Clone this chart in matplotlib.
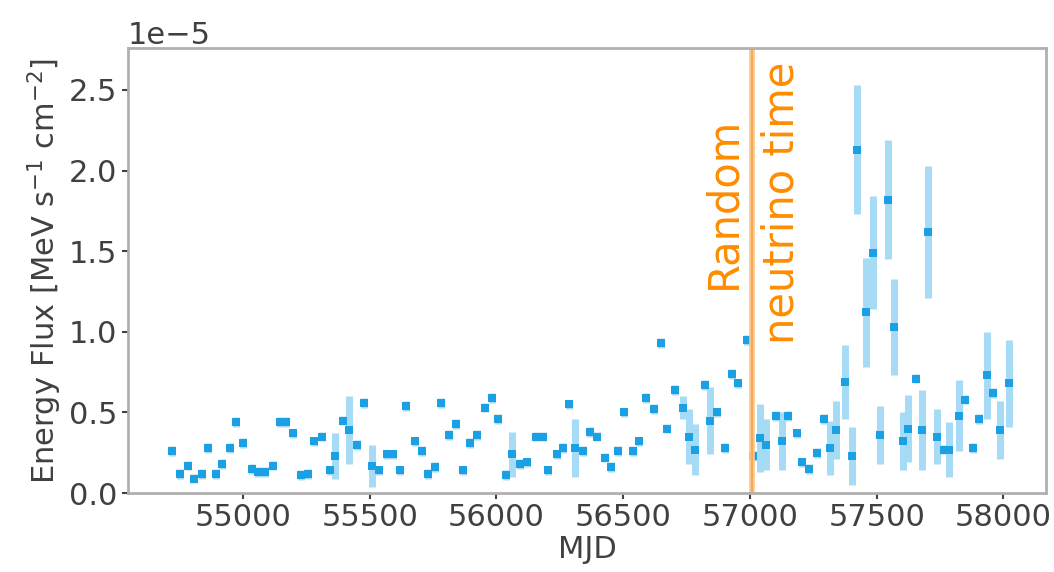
import matplotlib
matplotlib.use("Agg")
import matplotlib.pyplot as plt
import numpy as np

# light curve (monthly bins), flux in units of 1e-5 MeV s^-1 cm^-2
mjd = [54719, 54752, 54781, 54806, 54838, 54863, 54892, 54916, 54947, 54974,
       55001, 55034, 55060, 55085, 55120, 55145, 55169, 55196, 55229, 55255,
       55279, 55310, 55342, 55363, 55396, 55420, 55449, 55476, 55509, 55537,
       55568, 55593, 55619, 55644, 55677, 55705, 55731, 55757, 55783, 55814,
       55841, 55869, 55897, 55922, 55955, 55981, 56007, 56036, 56062, 56091,
       56120, 56157, 56183, 56204, 56238, 56262, 56285, 56310, 56342, 56369,
       56397, 56427, 56453, 56481, 56505, 56537, 56563, 56590, 56621, 56648,
       56674, 56706, 56736, 56761, 56783, 56821, 56842, 56869, 56901, 56928,
       56954, 56987, 57013, 57040, 57063, 57101, 57125, 57150, 57184, 57204,
       57232, 57264, 57294, 57316, 57341, 57375, 57401, 57423, 57458, 57486,
       57515, 57546, 57568, 57602, 57625, 57656, 57679, 57703, 57738, 57765,
       57787, 57824, 57850, 57879, 57905, 57935, 57960, 57987, 58023]

flux = [0.26, 0.12, 0.17, 0.09, 0.12, 0.28, 0.12, 0.18, 0.28, 0.44,
        0.31, 0.15, 0.13, 0.13, 0.17, 0.44, 0.44, 0.37, 0.11, 0.12,
        0.32, 0.35, 0.14, 0.23, 0.45, 0.39, 0.30, 0.56, 0.17, 0.14,
        0.24, 0.24, 0.14, 0.54, 0.32, 0.26, 0.12, 0.16, 0.56, 0.36,
        0.43, 0.14, 0.31, 0.36, 0.53, 0.59, 0.46, 0.11, 0.24, 0.18,
        0.19, 0.35, 0.35, 0.14, 0.24, 0.28, 0.55, 0.28, 0.26, 0.38,
        0.35, 0.22, 0.16, 0.26, 0.50, 0.26, 0.32, 0.59, 0.52, 0.93,
        0.40, 0.64, 0.53, 0.35, 0.27, 0.67, 0.45, 0.50, 0.28, 0.74,
        0.68, 0.95, 0.23, 0.34, 0.30, 0.48, 0.32, 0.48, 0.37, 0.19,
        0.15, 0.25, 0.46, 0.28, 0.39, 0.69, 0.23, 2.13, 1.12, 1.49,
        0.36, 1.82, 1.03, 0.32, 0.40, 0.71, 0.39, 1.62, 0.35, 0.27,
        0.27, 0.48, 0.58, 0.28, 0.46, 0.73, 0.62, 0.39, 0.68]

flux_err = [0.03, 0.03, 0.03, 0.03, 0.03, 0.03, 0.03, 0.03, 0.03, 0.03,
            0.03, 0.03, 0.03, 0.03, 0.03, 0.03, 0.03, 0.03, 0.03, 0.03,
            0.03, 0.03, 0.03, 0.145, 0.03, 0.21, 0.03, 0.03, 0.13, 0.03,
            0.03, 0.03, 0.03, 0.03, 0.03, 0.03, 0.03, 0.03, 0.03, 0.03,
            0.03, 0.03, 0.03, 0.03, 0.03, 0.03, 0.03, 0.03, 0.14, 0.03,
            0.03, 0.03, 0.03, 0.03, 0.03, 0.03, 0.03, 0.18, 0.03, 0.03,
            0.03, 0.03, 0.03, 0.03, 0.03, 0.03, 0.03, 0.03, 0.03, 0.03,
            0.03, 0.03, 0.07, 0.17, 0.16, 0.03, 0.21, 0.03, 0.03, 0.03,
            0.03, 0.03, 0.03, 0.21, 0.16, 0.03, 0.18, 0.03, 0.03, 0.03,
            0.03, 0.03, 0.03, 0.17, 0.18, 0.23, 0.18, 0.40, 0.34, 0.35,
            0.18, 0.37, 0.30, 0.18, 0.21, 0.03, 0.25, 0.41, 0.17, 0.03,
            0.17, 0.22, 0.03, 0.03, 0.03, 0.27, 0.03, 0.18, 0.27]

nu_time = 57010

x = np.array(mjd)
y = np.array(flux) * 1e-5
yerr = np.array(flux_err) * 1e-5

fig, ax = plt.subplots(figsize=(10.54, 5.72), dpi=100)
fig.subplots_adjust(left=0.1214, right=0.9924, bottom=0.138, top=0.916)

ax.errorbar(x, y, yerr=yerr, fmt='none', ecolor='#a6dbf5', elinewidth=5)
ax.plot(x, y, 's', color='#1ca0e4', markersize=6, markeredgewidth=0)

ax.axvline(nu_time, color='#fbc68a', linewidth=4)
ax.axvline(nu_time, color='#f5a24c', linewidth=1.2)
ax.text(nu_time, 1.8e-5, "Random\nneutrino time", rotation=90, color='#ff8c00',
        fontsize=30, ha='center', va='center', ma='center', linespacing=1.5)

ax.set_xlim(54546, 58168)
ax.set_ylim(0, 2.76e-5)
ax.set_xticks([55000, 55500, 56000, 56500, 57000, 57500, 58000])
ax.set_yticks([0, 0.5e-5, 1.0e-5, 1.5e-5, 2.0e-5, 2.5e-5])

ax.set_xlabel('MJD', fontsize=22, color='#404040', labelpad=2)
ax.set_ylabel(r'Energy Flux [MeV s$^{-1}$ cm$^{-2}$]', fontsize=22, color='#404040')
ax.tick_params(labelsize=22, colors='#404040', length=4, width=1.5)
ax.yaxis.get_offset_text().set_fontsize(22)
ax.yaxis.get_offset_text().set_color('#404040')
for s in ax.spines.values():
    s.set_color('#b0b0b0')
    s.set_linewidth(2)

fig.savefig('out.png', dpi=100)
